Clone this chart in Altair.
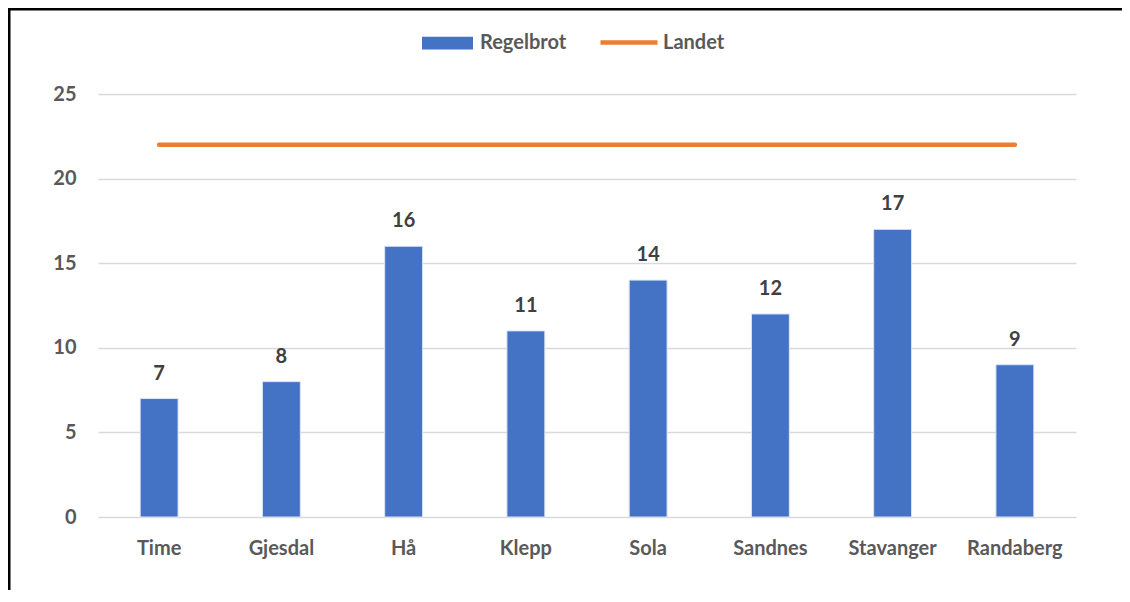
import altair as alt
import pandas as pd

categories = ["Time", "Gjesdal", "Hå", "Klepp", "Sola", "Sandnes", "Stavanger", "Randaberg"]
regelbrot = [7, 8, 16, 11, 14, 12, 17, 9]
landet = [22, 22, 22, 22, 22, 22, 22, 22]
y_ticks = [0, 5, 10, 15, 20, 25]

df = pd.DataFrame({
    "kommune": categories,
    "Regelbrot": regelbrot,
    "Landet": landet,
    "s1": ["Regelbrot"] * len(categories),
    "s2": ["Landet"] * len(categories),
})

FONT = "Lato"
GREY = "#595959"
FS = 20

x = alt.X("kommune:N", sort=categories, title=None,
          scale=alt.Scale(paddingInner=0.69, paddingOuter=0.345),
          axis=alt.Axis(labelAngle=0, labelFont=FONT, labelFontSize=FS, labelFontWeight="bold",
                        labelColor=GREY, labelPadding=21, ticks=False, domain=False, grid=False))

base = alt.Chart(df)

bars = base.mark_bar(stroke="#dbe4f5", strokeWidth=1).encode(
    x=x,
    y=alt.Y("Regelbrot:Q", title=None,
            scale=alt.Scale(domain=[0, 25], nice=False),
            axis=alt.Axis(values=y_ticks, labelFont=FONT, labelFontSize=FS, labelFontWeight="bold",
                          labelColor=GREY, labelPadding=22, ticks=False, domain=False,
                          gridColor="#d9d9d9", gridWidth=1.5)),
    color=alt.Color("s1:N", scale=alt.Scale(domain=["Regelbrot"], range=["#4472C4"]),
                    legend=alt.Legend(title=None, orient="none", legendX=324, legendY=-76.5,
                                      symbolType="M-1,-0.25L1,-0.25L1,0.25L-1,0.25Z",
                                      symbolSize=2601, symbolStrokeWidth=0, symbolOpacity=1,
                                      labelFont=FONT, labelFontSize=FS, labelFontWeight="bold",
                                      labelColor=GREY, labelOffset=7)),
)

labels = base.mark_text(baseline="alphabetic", dy=-19, font=FONT, fontSize=FS,
                        fontWeight="bold", color="#404040").encode(
    x=alt.X("kommune:N", sort=categories),
    y="Regelbrot:Q",
    text="Regelbrot:Q",
)

line = base.mark_line(strokeWidth=4.5, strokeCap="round").encode(
    x=alt.X("kommune:N", sort=categories),
    y="Landet:Q",
    stroke=alt.Stroke("s2:N", scale=alt.Scale(domain=["Landet"], range=["#ED7D31"]),
                      legend=alt.Legend(title=None, orient="none", legendX=500, legendY=-82.5,
                                        symbolType="stroke", symbolSize=3249,
                                        symbolStrokeWidth=4.5,
                                        labelFont=FONT, labelFontSize=FS, labelFontWeight="bold",
                                        labelColor=GREY, labelOffset=3)),
)

frame_df = pd.DataFrame({"a": [0]})
top_border = alt.Chart(frame_df).mark_rule(color="black", strokeWidth=3).encode(
    x=alt.value(-90), x2=alt.value(1030), y=alt.value(-85))
left_border = alt.Chart(frame_df).mark_rule(color="black", strokeWidth=3).encode(
    x=alt.value(-89), y=alt.value(-86), y2=alt.value(510))

chart = alt.layer(bars, labels, line, top_border, left_border).resolve_scale(
    color="independent", stroke="independent"
).properties(
    width=978, height=423,
    background="white",
    autosize=alt.AutoSizeParams(type="none"),
    padding={"left": 90, "top": 86, "right": 46, "bottom": 73},
).configure_view(strokeWidth=0, stroke=None)

chart.save("out.html", embed_options={"renderer": "svg", "actions": False})
